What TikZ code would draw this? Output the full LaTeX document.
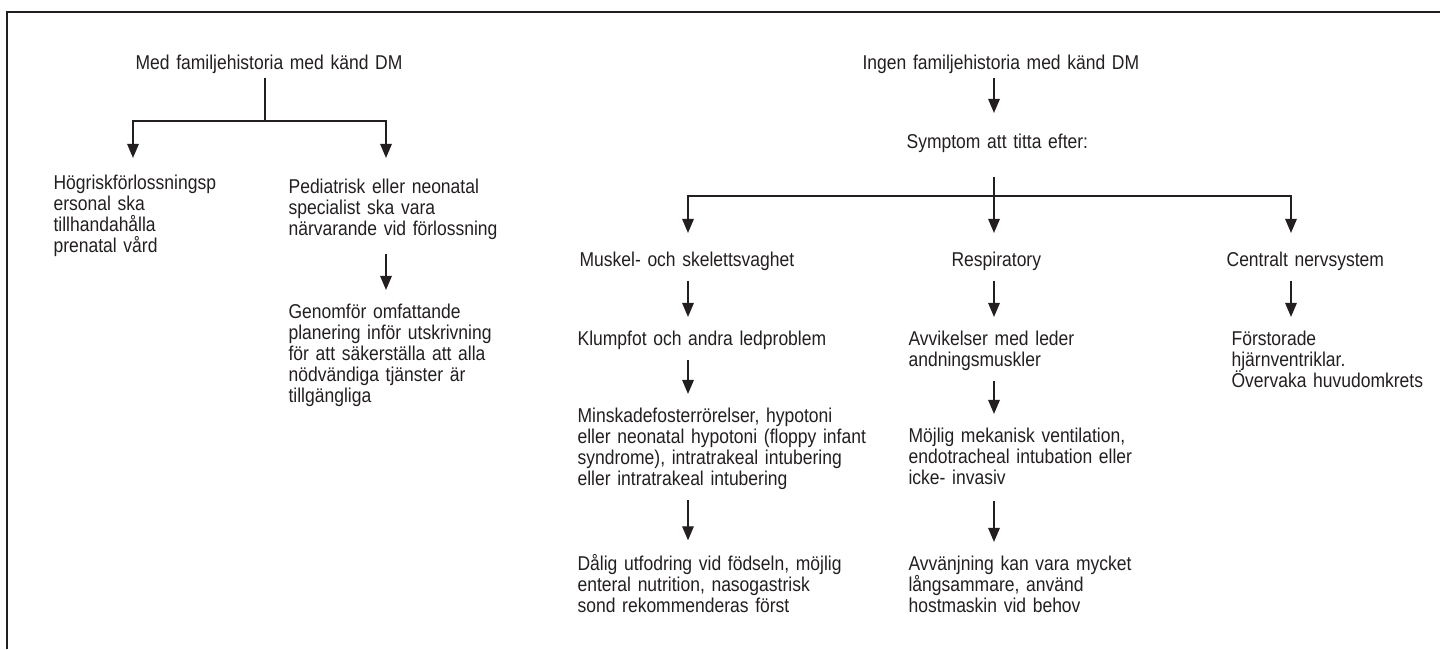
\documentclass[tikz,border=0pt]{standalone}
\usepackage{fontspec}
\setmainfont{Liberation Sans}[FakeStretch=0.875]
\usetikzlibrary{arrows.meta}
\definecolor{ink}{HTML}{231F20}
\tikzset{every picture/.style={line width=0.6pt}}
\tikzset{
	txt/.style={inner sep=0pt, text=ink, font=\fontsize{10}{10.5}\selectfont, text width=150pt, align=left, anchor=base west},
	arr/.style={draw=ink, -{Triangle[length=7pt,width=5.8pt]}, shorten <=5pt, shorten >=6.5pt},
	line/.style={draw=ink}}

\begin{document}
\begin{tikzpicture}[x=0.5pt,y=0.5pt,yscale=-1,xscale=1]
		\useasboundingbox (0,0) rectangle (1440,649);

		%Frame
		\draw [ink, line width=1pt] (1440,11.5) -- (7,11.5) -- (7,649) ;

		%Column positions
		\coordinate (colH) at (133,0);
		\coordinate (colP) at (386,0);
		\coordinate (colA) at (688,0);
		\coordinate (colB) at (994,0);
		\coordinate (colC) at (1291,0);
		\coordinate (forkL) at (265,121);
		\coordinate (forkR) at (994,196);

		% Text Node
		\node [txt] (med) at (135,69) {Med familjehistoria med känd DM};
		\node [txt] (hog) at (53,189) {Högriskförlossningsp\\ersonal ska\\tillhandahålla\\prenatal vård};
		\node [txt] (ped) at (288,193) {Pediatrisk eller neonatal\\specialist ska vara\\närvarande vid förlossning};
		\node [txt] (gen) at (288,318) {Genomför omfattande\\planering inför utskrivning\\för att säkerställa att alla\\nödvändiga tjänster är\\tillgängliga};

		% Text Node
		\node [txt] (ingen) at (862,69) {Ingen familjehistoria med känd DM};
		\node [txt] (symp) at (906,148) {Symptom att titta efter:};
		\node [txt] (musk) at (579,266) {Muskel- och skelettsvaghet};
		\node [txt] (klump) at (577,345) {Klumpfot och andra ledproblem};
		\node [txt] (minsk) at (577,422) {Minskadefosterrörelser, hypotoni\\eller neonatal hypotoni (floppy infant\\syndrome), intratrakeal intubering\\eller intratrakeal intubering};
		\node [txt] (dalig) at (577,570) {Dålig utfodring vid födseln, möjlig\\enteral nutrition, nasogastrisk\\sond rekommenderas först};
		\node [txt] (resp) at (951,266) {Respiratory};
		\node [txt] (avvik) at (908,345) {Avvikelser med leder\\andningsmuskler};
		\node [txt] (mojlig) at (908,442) {Möjlig mekanisk ventilation,\\endotracheal intubation eller\\icke- invasiv};
		\node [txt] (avvanj) at (908,570) {Avvänjning kan vara mycket\\långsammare, använd\\hostmaskin vid behov};
		\node [txt] (cns) at (1226,266) {Centralt nervsystem};
		\node [txt] (forst) at (1231,345) {Förstorade\\hjärnventriklar.\\Övervaka huvudomkrets};

		%Straight Lines
		\draw [line, shorten <=2pt] (med.south -| forkL) -- (forkL) ;
		\draw [arr, shorten <=0pt, shorten >=8pt] (forkL) -| (colH |- hog.north) ;
		\draw [arr, shorten <=0pt, shorten >=10pt] (forkL) -| (colP |- ped.north) ;
		\draw [arr, shorten <=7pt] (ped.south -| colP) -- (gen.north -| colP) ;

		%Straight Lines
		\draw [arr, shorten <=2pt, shorten >=10pt] (ingen.south -| colB) -- (symp.north -| colB) ;
		\draw [arr, shorten <=12pt, shorten >=9pt] (symp.south -| colB) -- (resp.north -| colB) ;
		\draw [arr, shorten <=0pt, shorten >=9pt] (forkR) -| (colA |- musk.north) ;
		\draw [arr, shorten <=0pt, shorten >=9pt] (forkR) -| (colC |- cns.north) ;

		%Straight Lines
		\draw [arr] (musk.south -| colA) -- (klump.north -| colA) ;
		\draw [arr] (klump.south -| colA) -- (minsk.north -| colA) ;
		\draw [arr] (minsk.south -| colA) -- (dalig.north -| colA) ;
		\draw [arr] (resp.south -| colB) -- (avvik.north -| colB) ;
		\draw [arr] (avvik.south -| colB) -- (mojlig.north -| colB) ;
		\draw [arr, shorten <=8pt] (mojlig.south -| colB) -- (avvanj.north -| colB) ;
		\draw [arr] (cns.south -| colC) -- (forst.north -| colC) ;

		\end{tikzpicture}
\end{document}
